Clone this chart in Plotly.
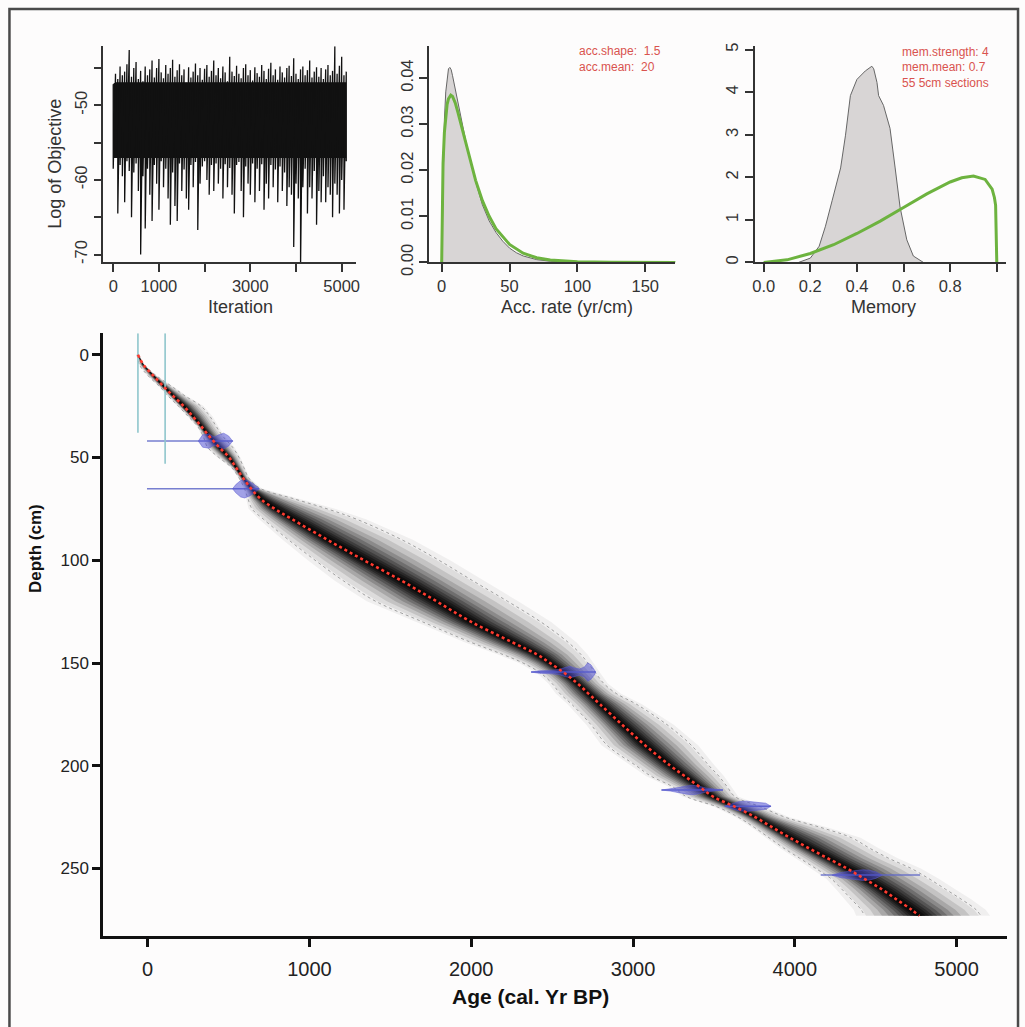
import plotly.graph_objects as go

W, H = 1025, 1027

iterations = [i * 50 for i in range(103)]
obj_high = [-47.2, -45.8, -46.5, -44.8, -46.0, -45.5, -44.5, -42.6, -46.2, -45.0,
            -44.2, -46.5, -45.4, -46.8, -44.8, -46.0, -45.2, -44.0, -46.3, -45.0,
            -43.8, -45.6, -46.4, -44.6, -45.8, -45.0, -43.9, -46.2, -45.3, -44.5,
            -46.0, -45.2, -47.0, -44.9, -46.3, -45.5, -44.4, -46.0, -45.0, -46.6,
            -45.1, -44.6, -46.2, -45.4, -44.0, -46.0, -45.0, -46.4, -44.8, -45.6,
            -46.8, -43.5, -45.5, -46.1, -44.7, -45.8, -46.4, -45.0, -44.5, -46.0,
            -45.3, -46.7, -44.9, -45.7, -46.2, -44.6, -45.4, -46.5, -45.1, -44.3,
            -46.0, -45.2, -46.6, -44.8, -45.6, -46.3, -45.0, -44.7, -46.1, -43.7,
            -45.8, -46.5, -45.2, -44.8, -46.0, -45.3, -44.0, -46.3, -45.5, -44.9,
            -46.2, -45.0, -46.5, -45.2, -44.6, -46.0, -45.4, -42.1, -45.8, -44.7,
            -43.5, -46.0, -45.5]
obj_low = [-58.5, -57.0, -64.5, -58.0, -59.5, -63.0, -57.5, -58.8, -65.0, -59.0,
           -57.8, -61.5, -70.0, -59.5, -66.5, -58.5, -62.0, -65.5, -58.0, -60.5,
           -64.0, -57.5, -61.0, -58.5, -62.5, -66.0, -59.0, -63.5, -65.5, -57.8,
           -61.5, -58.6, -62.5, -64.0, -58.0, -61.0, -57.6, -66.7, -60.5, -58.2,
           -57.5, -60.0, -62.0, -58.0, -61.5, -57.8, -60.5, -58.5, -62.5, -57.9,
           -61.0, -58.4, -62.0, -64.5, -58.0, -57.6, -61.5, -65.0, -58.2, -60.5,
           -62.0, -57.8, -63.0, -58.5, -61.5, -57.9, -64.0, -60.5, -62.5, -58.0,
           -61.0, -58.6, -63.0, -58.2, -61.5, -59.0, -63.5, -61.0, -62.0, -69.0,
           -60.5, -62.5, -71.5, -61.0, -58.5, -64.5, -61.0, -62.5, -58.8, -66.0,
           -61.5, -63.0, -59.5, -63.0, -61.0, -62.0, -65.0, -60.5, -62.0, -64.5,
           -60.0, -64.0, -57.5]
# limits of the solid core of the trace band
core_top_limit = -47.0
core_bottom_limit = -57.0

# ---------------- data: accumulation rate ----------------
acc_x = [0, 0.5, 1, 2, 3, 4, 5, 6, 7, 8, 10, 12, 15, 18, 20, 25, 30, 35, 40, 45,
         50, 55, 60, 70, 80, 90, 100]
acc_post = [0, 0.010, 0.020, 0.031, 0.037, 0.040, 0.042, 0.0423, 0.0418, 0.0405,
            0.0375, 0.0345, 0.0300, 0.0260, 0.0235, 0.0175, 0.0125, 0.0090, 0.0065,
            0.0046, 0.0031, 0.0021, 0.0014, 0.0006, 0.00025, 0.0001, 0]
acc_prior_x = [0, 0.3, 1, 2, 3, 4, 5, 6.7, 8, 10, 12, 15, 20, 25, 30, 35, 40, 50, 60,
               70, 80, 100, 125, 150, 175]
acc_prior = [0, 0.0125, 0.0215, 0.0282, 0.0322, 0.0343, 0.0355, 0.0363, 0.0360,
             0.0346, 0.0325, 0.0291, 0.0231, 0.0178, 0.0134, 0.0100, 0.0073, 0.0039,
             0.0020, 0.0010, 0.0005, 0.00013, 0.00002, 0, 0]

# ---------------- data: memory ----------------
mem_x = [0.15, 0.20, 0.238, 0.265, 0.294, 0.330, 0.351, 0.372, 0.400, 0.436, 0.464,
         0.472, 0.486, 0.493, 0.514, 0.542, 0.564, 0.585, 0.614, 0.642, 0.685]
mem_post = [0, 0.10, 0.38, 0.85, 1.46, 2.22, 2.99, 3.92, 4.30, 4.50, 4.61, 4.55, 4.23,
            3.92, 3.69, 3.15, 2.22, 1.30, 0.53, 0.15, 0]
mem_prior_x = [0, 0.1, 0.2, 0.3, 0.4, 0.5, 0.6, 0.7, 0.8, 0.85, 0.9, 0.95, 0.98,
               0.99, 0.995, 1.0]
mem_prior = [0, 0.06, 0.21, 0.415, 0.68, 0.97, 1.29, 1.61, 1.89, 1.99, 2.03, 1.95,
             1.72, 1.52, 1.34, 0]

# ---------------- data: age-depth model ----------------
depths = [0, 5, 10, 16, 20, 25, 30, 35, 40, 45, 50, 55, 60, 65, 70, 75, 80, 90, 100,
          110, 120, 130, 140, 146, 150, 155, 160, 165, 170, 180, 190, 200, 205, 210,
          215, 220, 225, 230, 235, 240, 245, 250, 255, 260, 265, 270, 273]
age_mean = [-60, -25, 33, 105, 157, 222, 279, 333, 384, 442, 504, 547, 590, 638, 696,
            786, 892, 1110, 1337, 1570, 1786, 2000, 2256, 2410, 2487, 2578, 2658, 2726,
            2795, 2932, 3074, 3231, 3319, 3407, 3495, 3631, 3755, 3862, 3970, 4084,
            4203, 4323, 4430, 4536, 4628, 4721, 4770]
age_min = [-65, -50, 0, 80, 125, 190, 250, 310, 345, 370, 440, 520, 565, 598, 620,
           645, 715, 870, 1035, 1210, 1410, 1700, 2000, 2200, 2320, 2430, 2500, 2550,
           2620, 2740, 2840, 3020, 3110, 3240, 3330, 3520, 3650, 3750, 3840, 3930,
           4030, 4130, 4225, 4290, 4350, 4410, 4430]
age_max = [-55, -20, 50, 160, 230, 330, 385, 425, 468, 525, 565, 595, 625, 695, 900,
           1110, 1290, 1570, 1800, 2010, 2225, 2430, 2600, 2680, 2720, 2770, 2820,
           2900, 3020, 3210, 3360, 3470, 3530, 3580, 3630, 3790, 3940, 4160, 4350,
           4460, 4580, 4720, 4830, 4930, 5030, 5120, 5150]

# calibrated dates: depth, age grid, half-height of probability shape (cm), whisker range
date_depth = [42, 65.2, 154.4, 211.8, 219.7, 253.2]
date_ages = [
    [313, 340, 380, 410, 440, 470, 500, 525],
    [525, 545, 575, 600, 630, 660, 690],
    [2370, 2420, 2480, 2540, 2580, 2610, 2640, 2670, 2700, 2720, 2740, 2760, 2770],
    [3176, 3230, 3280, 3330, 3370, 3410, 3450, 3500, 3556],
    [3567, 3600, 3650, 3700, 3740, 3780, 3820, 3853],
    [4230, 4280, 4330, 4380, 4420, 4460, 4500, 4540],
]
date_halfh = [
    [0, 3.0, 3.5, 2.0, 3.0, 3.8, 2.5, 0],
    [0, 2.0, 4.0, 4.5, 3.5, 2.0, 0],
    [0, 0.6, 0.8, 1.2, 2.2, 2.8, 2.0, 1.5, 2.5, 4.5, 3.5, 1.5, 0],
    [0, 0.5, 1.2, 2.0, 2.3, 1.8, 1.0, 0.5, 0],
    [0, 1.0, 2.2, 2.5, 2.0, 1.8, 1.5, 0],
    [0, 1.2, 1.8, 2.2, 2.6, 2.4, 1.6, 0],
]
date_lo = [-4, -4, 2370, 3176, 3567, 4160]
date_hi = [528, 690, 2769, 3556, 3853, 4774]

# vertical reference lines (age, bottom depth)
vline_age = [-60, 108]
vline_bottom = [38, 53]

# tick labels
it_ticks = [0, 1000, 2000, 3000, 4000, 5000]
it_text = ["0", "1000", "", "3000", "", "5000"]
obj_ticks = [-70, -65, -60, -55, -50, -45]
obj_text = ["-70", "", "-60", "", "-50", ""]
acc_ticks = [0, 50, 100, 150]
accy_ticks = [0, 0.01, 0.02, 0.03, 0.04]
accy_text = ["0.00", "0.01", "0.02", "0.03", "0.04"]
mem_ticks = [0, 0.2, 0.4, 0.6, 0.8, 1.0]
mem_text = ["0.0", "0.2", "0.4", "0.6", "0.8", ""]
memy_ticks = [0, 1, 2, 3, 4, 5]
depth_ticks = [0, 50, 100, 150, 200, 250]
age_ticks = [0, 1000, 2000, 3000, 4000, 5000]

# ---------------- figure ----------------
FONT = "Liberation Sans, Arial, sans-serif"
GREEN = "#6db33f"
RED_TXT = "#d9534f"
fig = go.Figure()

def px(x):
    return x / W

def py(y):
    return 1 - y / H

# panel 1: solid core of trace, then the trace itself
core_top = [min(h, core_top_limit) for h in obj_high]
core_bot = [max(lo, core_bottom_limit) for lo in obj_low]
fig.add_trace(go.Scatter(x=iterations, y=core_top, mode="lines",
                         line=dict(color="#111", width=1), xaxis="x", yaxis="y",
                         showlegend=False, hoverinfo="skip"))
fig.add_trace(go.Scatter(x=iterations, y=core_bot, mode="lines", fill="tonexty",
                         fillcolor="#111", line=dict(color="#111", width=1),
                         xaxis="x", yaxis="y", showlegend=False, hoverinfo="skip"))
zx, zy = [], []
for it, hi, lo in zip(iterations, obj_high, obj_low):
    zx += [it, it]
    zy += [hi, lo]
fig.add_trace(go.Scatter(x=zx, y=zy, mode="lines", line=dict(color="#111", width=1.3),
                         xaxis="x", yaxis="y", showlegend=False, hoverinfo="skip"))

# panel 2: acc rate
fig.add_trace(go.Scatter(x=acc_x, y=acc_post, mode="lines", fill="tozeroy",
                         fillcolor="#d8d5d5", line=dict(color="#666", width=1),
                         xaxis="x2", yaxis="y2", showlegend=False))
fig.add_trace(go.Scatter(x=acc_prior_x, y=acc_prior, mode="lines",
                         line=dict(color=GREEN, width=3),
                         xaxis="x2", yaxis="y2", showlegend=False))

# panel 3: memory
fig.add_trace(go.Scatter(x=mem_x, y=mem_post, mode="lines", fill="tozeroy",
                         fillcolor="#d8d5d5", line=dict(color="#666", width=1),
                         xaxis="x3", yaxis="y3", showlegend=False))
fig.add_trace(go.Scatter(x=mem_prior_x, y=mem_prior, mode="lines",
                         line=dict(color=GREEN, width=3),
                         xaxis="x3", yaxis="y3", showlegend=False))

# main panel: grey cloud as nested bands
fracs = [1.15, 0.97, 0.82, 0.68, 0.56, 0.46, 0.37, 0.29, 0.22, 0.16, 0.1, 0.05]
alphas = [0.05, 0.08, 0.11, 0.14, 0.17, 0.20, 0.23, 0.27, 0.32, 0.38, 0.45, 0.5]
for f, a in zip(fracs, alphas):
    left = [m - f * (m - lo) for m, lo in zip(age_mean, age_min)]
    right = [m + f * (hi - m) for m, hi in zip(age_mean, age_max)]
    fig.add_trace(go.Scatter(x=left + right[::-1], y=depths + depths[::-1],
                             mode="lines", fill="toself",
                             fillcolor=f"rgba(0,0,0,{a})", line=dict(width=0),
                             xaxis="x4", yaxis="y4", showlegend=False,
                             hoverinfo="skip"))

# 95% bounds
for bound in (age_min, age_max):
    fig.add_trace(go.Scatter(x=bound, y=depths, mode="lines", line_shape="spline",
                             line=dict(color="#a0a0a0", width=1, dash="dot"),
                             xaxis="x4", yaxis="y4", showlegend=False))

# calibrated dates
for d, ages, hh, lo, hi in zip(date_depth, date_ages, date_halfh, date_lo, date_hi):
    fig.add_trace(go.Scatter(x=[lo, hi], y=[d, d], mode="lines",
                             line=dict(color="rgba(95,105,200,0.85)", width=1.5),
                             xaxis="x4", yaxis="y4", showlegend=False))
    top = [d - h for h in hh]
    bot = [d + h for h in hh]
    fig.add_trace(go.Scatter(x=ages + ages[::-1], y=top + bot[::-1], mode="lines",
                             fill="toself", fillcolor="rgba(70,70,210,0.5)",
                             line=dict(color="rgba(90,90,210,0.5)", width=1),
                             xaxis="x4", yaxis="y4", showlegend=False))

# vertical reference lines
for a, b in zip(vline_age, vline_bottom):
    fig.add_trace(go.Scatter(x=[a, a], y=[-10.5, b], mode="lines",
                             line=dict(color="#8fc6cc", width=1.6),
                             xaxis="x4", yaxis="y4", showlegend=False))

# mean age line
fig.add_trace(go.Scatter(x=age_mean, y=depths, mode="lines", line_shape="spline",
                         line=dict(color="#ff3b2f", width=2.6, dash="dot"),
                         xaxis="x4", yaxis="y4", showlegend=False))

small_axis = dict(showline=True, linecolor="#333", linewidth=1.5, ticks="outside",
                  ticklen=8, tickwidth=1.5, tickcolor="#333", showgrid=False,
                  zeroline=False, tickfont=dict(family=FONT, size=16.5, color="#333"))
main_axis = dict(showline=True, linecolor="#111", linewidth=3, ticks="outside",
                 ticklen=8, tickwidth=3, tickcolor="#111", showgrid=False,
                 zeroline=False)

top_y = [py(263), py(43)]
fig.update_layout(
    width=W, height=H, margin=dict(l=0, r=0, t=0, b=0),
    paper_bgcolor="#fdfcfc", plot_bgcolor="#fdfcfc",
    xaxis=dict(domain=[px(101), px(355)], range=[-217, 5304], tickvals=it_ticks,
               ticktext=it_text, anchor="y", **small_axis),
    yaxis=dict(domain=top_y, range=[-71.05, -42.1], tickvals=obj_ticks,
               ticktext=obj_text, tickangle=-90, anchor="x", **small_axis),
    xaxis2=dict(domain=[px(429), px(677)], range=[-9.3, 172.2], tickvals=acc_ticks,
                anchor="y2", **small_axis),
    yaxis2=dict(domain=top_y, range=[0, 0.0469], tickvals=accy_ticks,
                ticktext=accy_text, tickangle=-90, anchor="x2", **small_axis),
    xaxis3=dict(domain=[px(757), px(1010)], range=[-0.038, 1.040], tickvals=mem_ticks,
                ticktext=mem_text, anchor="y3", **small_axis),
    yaxis3=dict(domain=top_y, range=[0, 5.08], tickvals=memy_ticks, tickangle=-90,
                anchor="x3", **small_axis),
    xaxis4=dict(domain=[px(101), px(1011)], range=[-274, 5312], tickvals=age_ticks,
                anchor="y4", ticklabelstandoff=5,
                tickfont=dict(family=FONT, size=20, color="#222"), **main_axis),
    yaxis4=dict(domain=[py(949), py(335)], range=[283, -10.5], tickvals=depth_ticks,
                anchor="x4", tickfont=dict(family=FONT, size=17, color="#222"),
                **main_axis),
)

def ann(text, x, y, size, color="#333", angle=0, xanchor="center"):
    fig.add_annotation(text=text, x=px(x), y=py(y), xref="paper", yref="paper",
                       showarrow=False, textangle=angle, xanchor=xanchor,
                       yanchor="middle", font=dict(family=FONT, size=size, color=color))

ann("Log of Objective", 52, 163, 18, angle=-90)
ann("Iteration", 239, 308, 18)
ann("Acc. rate (yr/cm)", 568, 308, 18)
ann("Memory", 887, 308, 18)
ann("acc.shape:  1.5", 578, 48, 12, RED_TXT, xanchor="left")
ann("acc.mean:  20", 578, 64, 12, RED_TXT, xanchor="left")
ann("mem.strength: 4", 903, 49, 12, RED_TXT, xanchor="left")
ann("mem.mean: 0.7", 903, 64, 12, RED_TXT, xanchor="left")
ann("55 5cm sections", 903, 80, 12, RED_TXT, xanchor="left")
ann("<b>Depth (cm)</b>", 33, 554, 17, "#111", angle=-90)
ann("<b>Age (cal. Yr BP)</b>", 531, 1010, 21, "#111")

fig.add_shape(type="rect", xref="paper", yref="paper", x0=px(6.5), x1=px(1022),
              y0=-0.02, y1=py(5), line=dict(color="#4a4a4a", width=2.5))

fig.write_html("out.html", config={"displayModeBar": False},
               post_script="document.body.style.margin='0px';document.body.style.overflow='hidden';")
